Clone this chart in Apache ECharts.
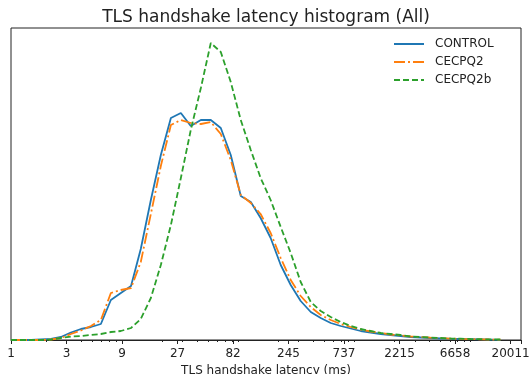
<!DOCTYPE html>
<html>
<head>
<meta charset="utf-8">
<script src="https://cdn.jsdelivr.net/npm/echarts@6/dist/echarts.min.js"></script>
<style>
    html, body { margin: 0; padding: 0; background: #fff; }
    #my_chart { width: 532px; height: 374px; }
</style>
</head>
<body>
<div id="my_chart"></div>
<script>
    // bin positions (ms), log spaced from 1 to 20011
    var latencyMs = [1, 1.22, 1.49, 1.81, 2.21, 2.69, 3.28, 4.0, 4.88, 5.94,
        7.24, 8.83, 10.8, 13.1, 16.0, 19.5, 23.8, 29.0, 35.3, 43.1,
        52.5, 64.0, 78.0, 95.1, 116, 141, 172, 210, 256, 312,
        381, 464, 566, 690, 841, 1025, 1249, 1523, 1857, 2263,
        2759, 3363, 4100, 4998, 6092, 7427, 9053, 11036, 13453, 16400];

    var control = [0, 0, 0, 0.5, 1, 3, 7.5, 11, 13, 16,
        40, 47, 54, 91, 140, 185, 222, 227, 214, 220,
        220, 212, 185, 144, 138, 122, 102, 75, 55, 39,
        28, 22, 17, 14, 11.5, 9, 7.5, 6, 5, 4,
        3, 2.5, 2, 1.5, 1.2, 1, 0.8, 0.6, 0.4, 0.2];

    var cecpq2 = [0, 0, 0, 0, 0.5, 2, 6, 9.5, 14, 20,
        47, 50, 52, 78, 126, 174, 215, 220, 217, 216,
        218, 206, 180, 145, 137, 126, 107, 82, 60, 44,
        33, 25, 20, 16, 13, 10.5, 8.5, 7, 5.5, 4.5,
        3.5, 3, 2.3, 1.8, 1.4, 1.1, 0.9, 0.7, 0.5, 0.3];

    var cecpq2b = [0, 0, 0, 0, 0.5, 2, 3.5, 4, 5, 6,
        8, 9, 12, 21, 42, 75, 115, 162, 210, 252,
        297, 288, 258, 220, 190, 162, 140, 113, 87, 58,
        38, 29, 23, 18, 14, 11, 9, 7, 6, 5,
        3.5, 3, 2.5, 2, 1.5, 1.3, 1, 0.8, 0.6, 0.5];

    var tickLabels = ['1', '3', '9', '27', '82', '245', '737', '2215', '6658', '20011'];
    var minorTicks = [2, 3, 4, 5, 6, 7, 8, 9, 20, 30, 40, 50, 60, 70, 80, 90,
        200, 300, 400, 500, 600, 700, 800, 900, 2000, 3000, 4000, 5000, 6000, 7000, 8000, 9000, 20000];

    var logBase = Math.pow(20011, 1 / 9);
    var font = 'DejaVu Sans';

    function pairs(ys) {
        return latencyMs.map(function (x, i) { return [x, ys[i]]; });
    }

    var myChart = echarts.init(document.getElementById('my_chart'));
    option = {
        animation: false,
        title: {
            text: 'TLS handshake latency histogram (All)',
            left: 'center',
            top: 4,
            textStyle: { fontFamily: font, fontSize: 17, fontWeight: 'normal', color: '#222' }
        },
        legend: {
            orient: 'vertical',
            left: 393,
            top: 38,
            padding: 0,
            itemWidth: 30,
            itemHeight: 14,
            itemGap: 6,
            itemStyle: { opacity: 0 },
            textStyle: { fontFamily: font, fontSize: 12, color: '#222', padding: [0, 0, 0, 6] },
            data: ['CONTROL', 'CECPQ2', 'CECPQ2b']
        },
        grid: {
            left: 11,
            right: 11,
            top: 28,
            bottom: 34,
            containLabel: false,
            outerBoundsMode: 'none',
            show: true,
            borderColor: '#222',
            borderWidth: 1
        },
        xAxis: [
            {
                type: 'log',
                logBase: logBase,
                min: 1,
                max: 24600,
                name: 'TLS handshake latency (ms)',
                nameLocation: 'middle',
                nameGap: 22,
                nameTextStyle: { fontFamily: font, fontSize: 12, color: '#222' },
                axisLine: { lineStyle: { color: '#222', width: 1 } },
                axisTick: { length: 4, lineStyle: { color: '#222' } },
                axisLabel: {
                    fontFamily: font, fontSize: 12, color: '#222', margin: 8,
                    formatter: function (v) {
                        var k = Math.log(v) / Math.log(logBase);
                        var i = Math.round(k);
                        return Math.abs(k - i) < 0.02 ? tickLabels[i] : '';
                    }
                },
                splitLine: { show: false }
            },
            {
                type: 'log',
                logBase: 10,
                min: 1,
                max: 24600,
                position: 'bottom',
                axisLine: { show: false },
                axisLabel: { show: false },
                axisTick: { length: 2, customValues: minorTicks, lineStyle: { color: '#222' } },
                splitLine: { show: false }
            }
        ],
        yAxis: {
            type: 'value',
            min: 0,
            max: 312,
            axisLine: { show: false },
            axisTick: { show: false },
            axisLabel: { show: false },
            splitLine: { show: false }
        },
        series: [
            {
                name: 'CONTROL',
                type: 'line',
                showSymbol: false,
                symbol: 'none',
                data: pairs(control),
                itemStyle: { color: '#1f77b4' },
                lineStyle: { color: '#1f77b4', width: 1.8 }
            },
            {
                name: 'CECPQ2',
                type: 'line',
                showSymbol: false,
                symbol: 'none',
                data: pairs(cecpq2),
                itemStyle: { color: '#ff7f0e' },
                lineStyle: { color: '#ff7f0e', width: 1.8, type: [11, 3, 2, 3] }
            },
            {
                name: 'CECPQ2b',
                type: 'line',
                showSymbol: false,
                symbol: 'none',
                data: pairs(cecpq2b),
                itemStyle: { color: '#2ca02c' },
                lineStyle: { color: '#2ca02c', width: 1.8, type: [6, 3] }
            }
        ]
    };

    myChart.setOption(option);
</script>
</body>
</html>
